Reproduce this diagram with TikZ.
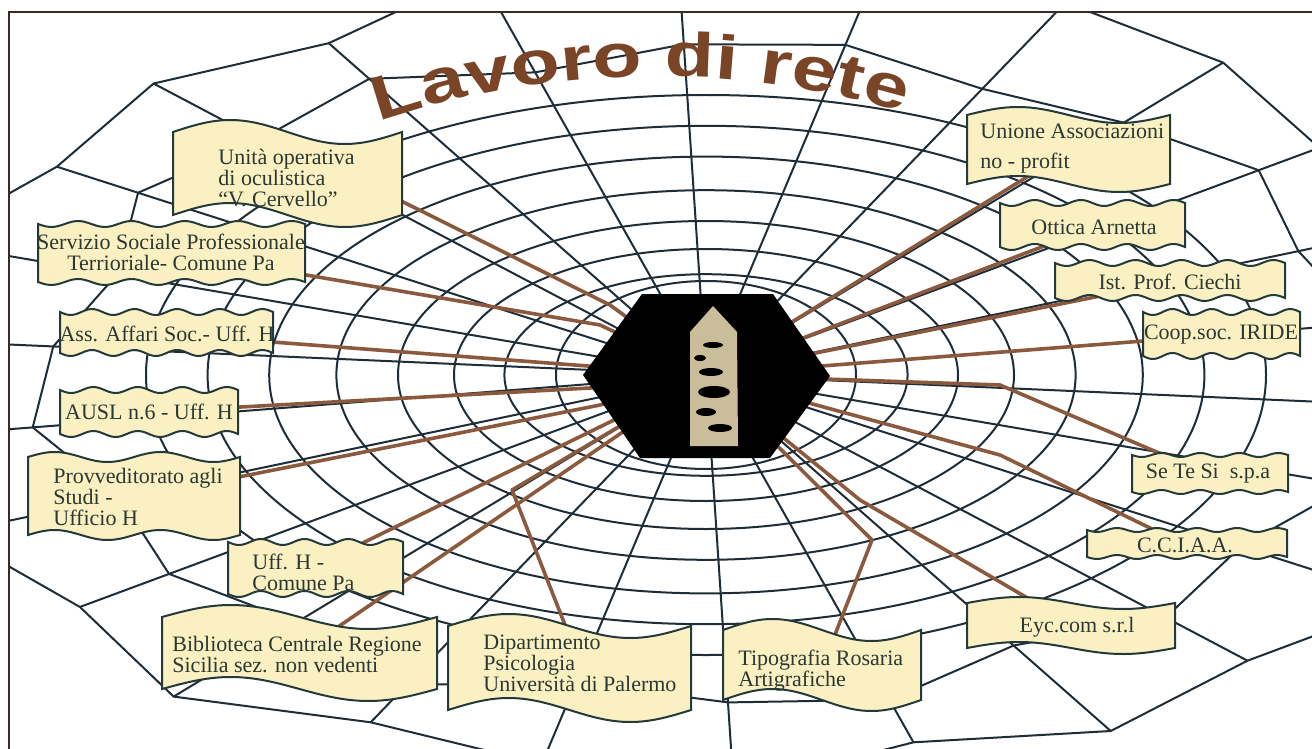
\documentclass[tikz,border=0pt]{standalone}
\usepackage{fontspec}
\setmainfont{Liberation Serif}
\newfontfamily\titlefont[FakeStretch=1.3]{Liberation Sans Bold}
\usetikzlibrary{decorations.text}
\pgfdeclarelayer{web}
\pgfdeclarelayer{links}
\pgfsetlayers{web,links,main}
\definecolor{webc}{HTML}{1E2D38}
\definecolor{linkc}{HTML}{8B5A3E}
\definecolor{boxfill}{HTML}{FAF0C2}
\definecolor{boxline}{HTML}{24393A}
\definecolor{textc}{HTML}{2B3833}
\definecolor{titlec}{HTML}{7A4427}
\definecolor{tanc}{HTML}{C9BD9A}
\definecolor{framec}{HTML}{3A2A26}
\newcommand\wavebox[6]{%
  \filldraw[boxst] plot[domain=#1:#3,samples=70] (\x,{#2+#5*sin(((\x-#1)/(#3-#1))*360*#6)})
   -- plot[domain=#3:#1,samples=70] (\x,{#4+#5*sin(((\x-#1)/(#3-#1))*360*#6)}) -- cycle;}
\begin{document}
\begin{tikzpicture}[x=0.5pt,y=-0.5pt,
  webline/.style={draw=webc,line width=1pt},
  link/.style={draw=linkc,line width=1.8pt,line join=round},
  boxst/.style={fill=boxfill,draw=boxline,line width=1pt},
  lbl/.style={text=textc,inner sep=0pt,font=\fontsize{11}{10.5}\selectfont}]
\useasboundingbox (0,0) rectangle (1312,749);
\begin{pgfonlayer}{web}
\fill[white] (0,0) rectangle (1312,749);
\begin{scope}
\clip (9,12) rectangle (1312,749);
\coordinate (ctr) at (706,375);
\draw[webline] (ctr) ellipse [x radius=75pt, y radius=47pt];
\foreach \s in {0.36,0.45,0.55,0.66,0.78,0.89,1.0}
  \draw[webline] (ctr) ellipse [x radius={\s*280pt}, y radius={\s*140pt}];
\def\jA{{1.00,1.04,0.97,1.02,0.95,1.03,1.00,0.96,1.05,0.98,1.02,0.97,1.04,1.00,0.95,1.03,0.99,1.04,0.96,1.01,1.03,0.97,1.00,1.05,0.98,1.02}}
\def\jB{{1.02,0.97,1.05,0.99,1.03,0.96,1.04,1.00,0.97,1.05,0.98,1.03,0.95,1.02,1.04,0.97,1.01,0.96,1.05,0.99,0.97,1.04,1.02,0.96,1.03,1.00}}
\foreach \i in {0,...,25} {
  \pgfmathsetmacro\t{\i*360/26+5}
  \pgfmathsetmacro\ja{\jA[\i]}
  \pgfmathsetmacro\jb{\jB[\i]}
  \pgfmathsetmacro\sa{1.17*\ja}
  \pgfmathsetmacro\sb{1.42*\jb}
  \coordinate (ra\i) at ({706+\sa*560*cos(\t)},{375+\sa*280*sin(\t)});
  \coordinate (rb\i) at ({706+\sb*560*cos(\t)},{375+\sb*280*sin(\t)});
}
\draw[webline] (ra0) \foreach \i in {1,...,25}{ -- (ra\i)} -- cycle;
\draw[webline] (rb0) \foreach \i in {1,...,25}{ -- (rb\i)} -- cycle;
\foreach \i in {0,...,25} \draw[webline] (ctr) -- (rb\i);
\end{scope}
\end{pgfonlayer}
% title
\path[decorate, decoration={text along path, text align=center,
  text format delimiters={|}{|},
  text={|\titlefont\fontsize{31}{31}\selectfont\color{titlec}|Lavoro di rete}}]
  (372,124) .. controls (550,62) and (740,62) .. (910,114);
% hub
\coordinate (hex) at (706,375);
\fill[black] (583,375) -- (642,294) -- (773,294) -- (830,376) -- (770,458) -- (640,458) -- cycle;
\fill[tanc] (713,306) -- (737,332) -- (738,446) -- (690,446) -- (690,332) -- cycle;
\fill[black] (713,345) ellipse [x radius=5pt, y radius=1.5pt];
\fill[black] (711,372) ellipse [x radius=6pt, y radius=2pt];
\fill[black] (714,392) ellipse [x radius=8pt, y radius=3pt];
\fill[black] (706,412) ellipse [x radius=5pt, y radius=2pt];
\fill[black] (720,428) ellipse [x radius=6pt, y radius=2pt];
\fill[black] (700,358) ellipse [x radius=3pt, y radius=1.5pt];
% boxes and labels
\wavebox{173}{132}{402}{215}{-12}{1}
\node[lbl,anchor=west,align=left] (uo) at (218,178) {Unità operativa\\di oculistica\\“V. Cervello”};
\wavebox{38}{224}{305}{282}{3}{5}
\node[lbl,align=center] (ss) at (171,252) {Servizio Sociale Professionale\\Terrioriale- Comune Pa};
\wavebox{60}{312}{273}{353}{3}{5}
\node[lbl] (aa) at (167,334) {Ass. Affari Soc.- Uff. H};
\wavebox{60}{390}{238}{434}{3}{4}
\node[lbl] (au) at (149,412) {AUSL n.6 - Uff. H};
\wavebox{28}{457}{240}{535}{-5}{2}
\node[lbl,anchor=west,align=left] (pv) at (53,497) {Provveditorato agli\\Studi -\\Ufficio H};
\wavebox{228}{542}{403}{594}{3}{4}
\node[lbl,anchor=west,align=left] (uh) at (252,572) {Uff. H -\\Comune Pa};
\wavebox{162}{617}{437}{689}{-12}{1}
\node[lbl,anchor=west,align=left] (bc) at (172,655) {Biblioteca Centrale Regione\\Sicilia sez. non vedenti};
\wavebox{448}{626}{691}{710}{-12}{1}
\node[lbl,anchor=west,align=left] (dp) at (483,663) {Dipartimento\\Psicologia\\Università di Palermo};
\wavebox{723}{630}{921}{700}{-11}{1}
\node[lbl,anchor=west,align=left] (tp) at (738,671) {Tipografia Rosaria\\Artigrafiche};
\wavebox{967}{603}{1175}{648}{-6}{1}
\node[lbl] (ey) at (1077,627) {Eyc.com s.r.l};
\wavebox{1087}{530}{1287}{557}{2}{5}
\node[lbl] (cc) at (1185,545) {C.C.I.A.A.};
\wavebox{1132}{455}{1288}{492}{2}{4}
\node[lbl] (st) at (1208,474) {Se Te Si \ s.p.a};
\wavebox{1143}{312}{1300}{356}{3}{4}
\node[lbl] (cp) at (1221,335) {Coop.soc. IRIDE};
\wavebox{1055}{263}{1285}{298}{3}{5}
\node[lbl] (ip) at (1170,282) {Ist. Prof. Ciechi};
\wavebox{1000}{203}{1185}{247}{3}{4}
\node[lbl] (oa) at (1094,227) {Ottica Arnetta};
\wavebox{967}{115}{1170}{184}{-8}{1}
\node[lbl,anchor=west,align=left,font=\fontsize{11}{15}\selectfont] (un) at (980,149) {Unione Associazioni\\no - profit};
% connectors
\begin{pgfonlayer}{links}
\draw[link] (hex) -- (610,305) -- (uo.east);
\draw[link] (hex) -- (600,325) -- (ss);
\draw[link] (hex) -- (aa);
\draw[link] (hex) -- (590,388) -- (au);
\draw[link] (hex) -- (600,405) -- (pv);
\draw[link] (hex) -- (uh);
\draw[link] (hex) -- (bc);
\draw[link] (hex) -- (512,490) -- (dp);
\draw[link] (hex) -- (872,540) -- (tp);
\draw[link] (hex) -- (860,500) -- (ey);
\draw[link] (hex) -- (1000,455) -- (cc);
\draw[link] (hex) -- (1000,385) -- (st);
\draw[link] (hex) -- (cp);
\draw[link] (hex) -- (ip);
\draw[link] (hex) -- (oa);
\draw[link] (hex) -- (un);
\end{pgfonlayer}
% frame
\draw[framec,line width=1pt] (9,749) -- (9,12) -- (1312,12);
\end{tikzpicture}
\end{document}
